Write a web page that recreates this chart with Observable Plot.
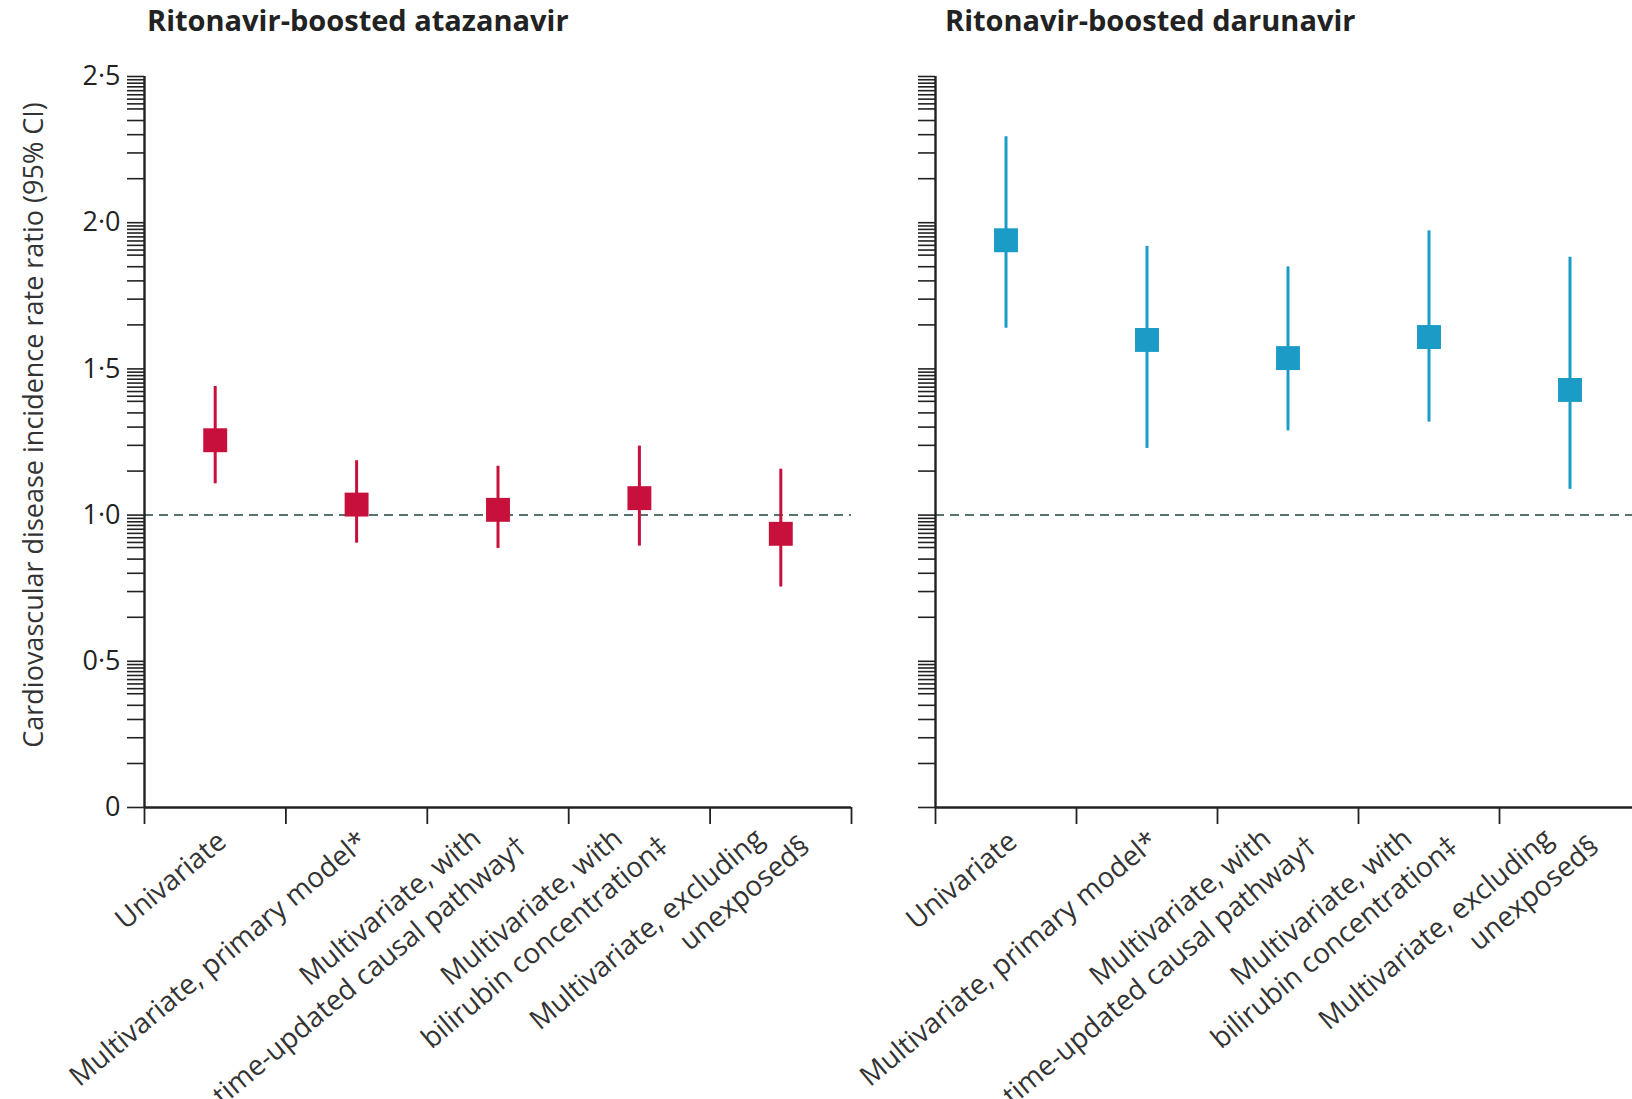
<!DOCTYPE html>
<html><head><meta charset="utf-8">
<script src="https://cdn.jsdelivr.net/npm/d3@7"></script>
<script src="https://cdn.jsdelivr.net/npm/@observablehq/plot@0.6"></script>
<style>
html,body{margin:0;padding:0;background:#fff;overflow:hidden;width:1632px;height:1099px;}
#wrap{position:relative;width:1632px;height:1099px;overflow:hidden;}
.panel{position:absolute;top:0;}
.title{font-family:"Open Sans",sans-serif;font-weight:700;font-size:29px;color:#222;height:46px;box-sizing:border-box;padding-top:3px;white-space:nowrap;line-height:34px;}
svg{display:block;max-width:none !important;}
</style></head><body><div id="wrap"></div>
<script>
const categories = [
  "Univariate",
  "Multivariate, primary model*",
  "Multivariate, with\ntime-updated causal pathway†",
  "Multivariate, with\nbilirubin concentration‡",
  "Multivariate, excluding\nunexposed§"
];
const titles = ["Ritonavir-boosted atazanavir", "Ritonavir-boosted darunavir"];
const ataEst = [1.256, 1.036, 1.018, 1.058, 0.936];
const ataLo  = [1.107, 0.904, 0.886, 0.894, 0.754];
const ataHi  = [1.440, 1.186, 1.167, 1.236, 1.157];
const drvEst = [1.940, 1.599, 1.537, 1.609, 1.428];
const drvLo  = [1.639, 1.228, 1.288, 1.318, 1.088];
const drvHi  = [2.294, 1.919, 1.849, 1.972, 1.882];
const yTicks = [0, 0.5, 1, 1.5, 2, 2.5];
const yTickLabels = ["0", "0·5", "1·0", "1·5", "2·0", "2·5"];
const minorSteps = [9.5, 9, 8.5, 8, 7.5, 7, 6.5, 6, 5, 4, 3, 2];
const yLabel = "Cardiovascular disease incidence rate ratio (95% CI)";
const colors = ["#c8103c", "#1a9cc6"];
const refValue = 1;

function rows(est, lo, hi) {
  return categories.map((c, i) => ({i: i + 1, cat: c, est: est[i], lo: lo[i], hi: hi[i]}));
}
const minorTicks = yTicks.filter(m => m > 0).flatMap(m => minorSteps.map(k => m - 0.5 * (1 - Math.log10(k))));
const xBounds = d3.range(0, categories.length + 1).map(d => d + 0.5);
const singleLine = categories.map((c, i) => i + 1).filter(i => !categories[i - 1].includes("\n"));
const twoLine = categories.map((c, i) => i + 1).filter(i => categories[i - 1].includes("\n"));
const line = (i, k) => categories[i - 1].split("\n")[k];

function panel({data, color, showY, width, marginLeft, marginRight}) {
  const labelStyle = {tickSize: 0, tickPadding: 30, tickRotate: -40, fontSize: 28, fill: "#333", label: null};
  const marks = [
    Plot.ruleY([refValue], {stroke: "#557370", strokeWidth: 2, strokeDasharray: "9,6"}),
    Plot.axisY(minorTicks, {tickSize: 17, tickFormat: () => "", label: null, stroke: "#222", strokeWidth: 1.6}),
    Plot.axisY(yTicks, {
      tickSize: 17, tickPadding: 7,
      tickFormat: d => showY ? yTickLabels[yTicks.indexOf(d)] : "",
      label: null, fontSize: 27, stroke: "#222", fill: "#222", strokeWidth: 1.6
    }),
    Plot.axisX(xBounds, {tickSize: 17, tickFormat: () => "", label: null, stroke: "#222", strokeWidth: 1.8}),
    Plot.axisX(singleLine, {...labelStyle, tickFormat: d => categories[d - 1], dx: 7}),
    Plot.axisX(twoLine, {...labelStyle, tickFormat: d => line(d, 0), dx: -21, dy: -3}),
    Plot.axisX(twoLine, {...labelStyle, tickFormat: d => line(d, 1), dx: 25, dy: 5}),
    Plot.ruleX([0.5], {stroke: "#222", strokeWidth: 2.4}),
    Plot.ruleY([0], {stroke: "#222", strokeWidth: 2.4}),
    Plot.ruleX(data, {x: "i", y1: "lo", y2: "hi", stroke: color, strokeWidth: 3}),
    Plot.dot(data, {x: "i", y: "est", symbol: "square", r: 13.5, fill: color, stroke: null})
  ];
  if (showY) {
    marks.push(Plot.text([yLabel], {text: d => d, frameAnchor: "left", textAnchor: "middle", rotate: -90, dx: -110, dy: -17, fontSize: 27, fill: "#333"}));
  }
  return Plot.plot({
    width, height: 1053, marginTop: 30, marginBottom: 292, marginLeft, marginRight,
    style: {fontFamily: '"Open Sans", sans-serif', fontSize: "25px", color: "#222", background: "white", overflow: "visible"},
    x: {domain: [0.5, categories.length + 0.5], label: null},
    y: {domain: [0, 2.5], label: null},
    marks
  });
}

const wrap = document.getElementById("wrap");
const specs = [
  {left: 0, titlePad: 147, data: rows(ataEst, ataLo, ataHi), color: colors[0], showY: true, width: 880, marginLeft: 144, marginRight: 29},
  {left: 880, titlePad: 65, data: rows(drvEst, drvLo, drvHi), color: colors[1], showY: false, width: 760, marginLeft: 55, marginRight: 0}
];
specs.forEach((s, k) => {
  const div = document.createElement("div");
  div.className = "panel";
  div.style.left = s.left + "px";
  div.style.width = s.width + "px";
  const t = document.createElement("div");
  t.className = "title";
  t.style.paddingLeft = s.titlePad + "px";
  t.textContent = titles[k];
  div.appendChild(t);
  div.appendChild(panel(s));
  wrap.appendChild(div);
});
</script>
</body></html>
